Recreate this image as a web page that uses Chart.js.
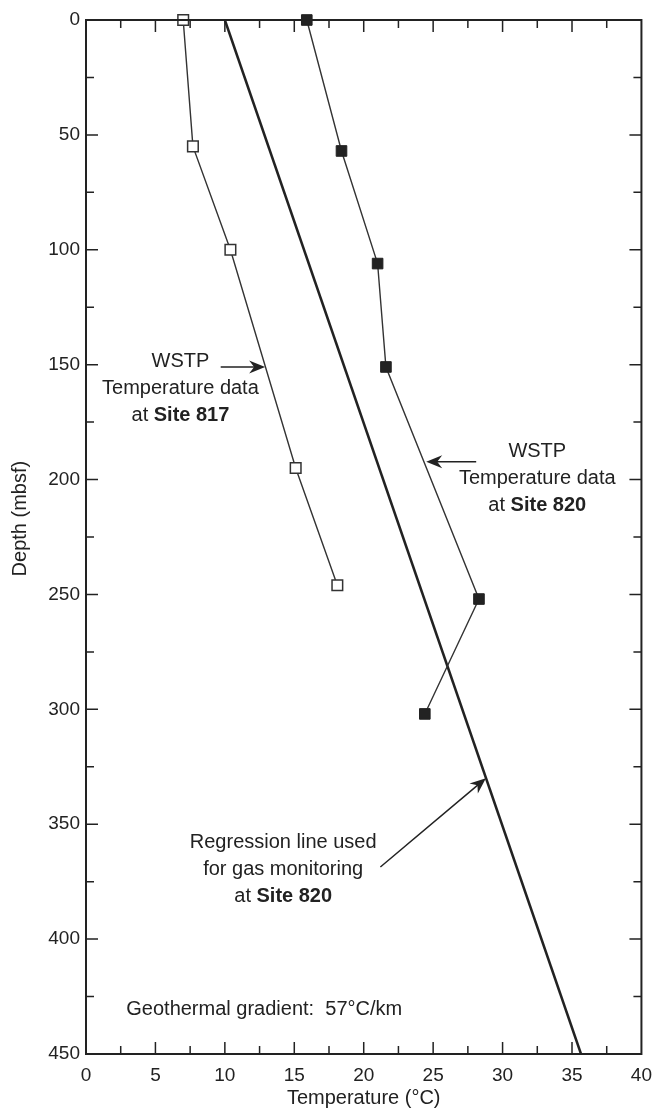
<!DOCTYPE html>
<html lang="en">
<head>
    <meta charset="UTF-8">
    <title>WSTP Temperature vs Depth</title>
    <script src="https://cdn.jsdelivr.net/npm/chart.js"></script>
    <style>
        html, body { margin: 0; padding: 0; background: #fff; }
        .chart-wrapper { position: relative; width: 662px; height: 1115px; }
    </style>
</head>
<body>
    <div class="chart-wrapper">
        <canvas id="tempChart"></canvas>
    </div>

    <script>
        // Site 817 (open squares)
        const site817Temp = [7.0, 7.7, 10.4, 15.1, 18.1];
        const site817Depth = [0, 55, 100, 195, 246];

        // Site 820 (filled squares)
        const site820Temp = [15.9, 18.4, 21.0, 21.6, 28.3, 24.4];
        const site820Depth = [0, 57, 106, 151, 252, 302];

        // Regression line, 57 C/km
        const regressionTemp = [10.0, 35.65];
        const regressionDepth = [0, 450];

        const FONT = '"Liberation Sans", Arial, Helvetica, sans-serif';
        const INK = '#222';

        // Annotations, anchored in data units (temperature, depth)
        const notes = [
            { x: 6.8, y: 148.8, lines: [['WSTP', ''], ['Temperature data', ''], ['at ', 'Site 817']] },
            { x: 32.5, y: 188.0, lines: [['WSTP', ''], ['Temperature data', ''], ['at ', 'Site 820']] },
            { x: 14.2, y: 358.1, lines: [['Regression line used', ''], ['for gas monitoring', ''], ['at ', 'Site 820']] }
        ];
        const arrows = [
            { from: [9.7, 151], to: [12.9, 151] },
            { from: [28.1, 192.3], to: [24.5, 192.3] },
            { from: [21.2, 368.6], to: [28.8, 330] }
        ];
        const gradientNote = { x: 2.9, y: 430.8, text: 'Geothermal gradient:  57\u00B0C/km' };
        const yTitle = { text: 'Depth (mbsf)', y: 217 };

        function toPoints(xs, ys) {
            return xs.map((x, i) => ({ x: x, y: ys[i] }));
        }

        function drawArrow(ctx, x1, y1, x2, y2) {
            const ang = Math.atan2(y2 - y1, x2 - x1);
            const headLen = 16, headW = 6.5;
            ctx.beginPath();
            ctx.moveTo(x1, y1);
            ctx.lineTo(x2 - Math.cos(ang) * 8, y2 - Math.sin(ang) * 8);
            ctx.stroke();
            ctx.save();
            ctx.translate(x2, y2);
            ctx.rotate(ang);
            ctx.beginPath();
            ctx.moveTo(0, 0);
            ctx.lineTo(-headLen, -headW);
            ctx.lineTo(-headLen + 5, 0);
            ctx.lineTo(-headLen, headW);
            ctx.closePath();
            ctx.fill();
            ctx.restore();
        }

        const framePlugin = {
            id: 'frame',
            afterDraw(chart) {
                const ctx = chart.ctx;
                const area = chart.chartArea;
                const xs = chart.scales.x;
                const ys = chart.scales.y;

                ctx.save();
                ctx.strokeStyle = INK;
                ctx.fillStyle = INK;

                // box
                ctx.lineWidth = 2;
                ctx.strokeRect(area.left, area.top, area.right - area.left, area.bottom - area.top);

                // inward ticks on all four sides
                ctx.lineWidth = 1.5;
                ctx.beginPath();
                xs.ticks.forEach(t => {
                    if (t.value <= xs.min || t.value >= xs.max) return;
                    const px = xs.getPixelForValue(t.value);
                    const len = t.value % 5 === 0 ? 12 : 8;
                    ctx.moveTo(px, area.bottom);
                    ctx.lineTo(px, area.bottom - len);
                    ctx.moveTo(px, area.top);
                    ctx.lineTo(px, area.top + len);
                });
                ys.ticks.forEach(t => {
                    if (t.value <= ys.min || t.value >= ys.max) return;
                    const py = ys.getPixelForValue(t.value);
                    const len = t.value % 50 === 0 ? 12 : 8;
                    ctx.moveTo(area.left, py);
                    ctx.lineTo(area.left + len, py);
                    ctx.moveTo(area.right, py);
                    ctx.lineTo(area.right - len, py);
                });
                ctx.stroke();

                // text notes
                ctx.textBaseline = 'middle';
                const normalFont = '20px ' + FONT;
                const boldFont = 'bold 20px ' + FONT;
                notes.forEach(n => {
                    const cx = xs.getPixelForValue(n.x);
                    let cy = ys.getPixelForValue(n.y);
                    n.lines.forEach(([plain, bold]) => {
                        ctx.font = normalFont;
                        const w1 = ctx.measureText(plain).width;
                        ctx.font = boldFont;
                        const w2 = bold ? ctx.measureText(bold).width : 0;
                        const left = cx - (w1 + w2) / 2;
                        ctx.textAlign = 'left';
                        ctx.font = normalFont;
                        ctx.fillText(plain, left, cy);
                        if (bold) {
                            ctx.font = boldFont;
                            ctx.fillText(bold, left + w1, cy);
                        }
                        cy += 27;
                    });
                });

                ctx.font = normalFont;
                ctx.textAlign = 'left';
                ctx.fillText(gradientNote.text, xs.getPixelForValue(gradientNote.x), ys.getPixelForValue(gradientNote.y));

                // y axis title
                ctx.save();
                ctx.translate(20, ys.getPixelForValue(yTitle.y));
                ctx.rotate(-Math.PI / 2);
                ctx.textAlign = 'center';
                ctx.fillText(yTitle.text, 0, 0);
                ctx.restore();

                // arrows
                ctx.lineWidth = 1.5;
                arrows.forEach(a => {
                    drawArrow(ctx,
                        xs.getPixelForValue(a.from[0]), ys.getPixelForValue(a.from[1]),
                        xs.getPixelForValue(a.to[0]), ys.getPixelForValue(a.to[1]));
                });

                ctx.restore();
            }
        };

        const ctx = document.getElementById('tempChart').getContext('2d');
        const tempChart = new Chart(ctx, {
            type: 'scatter',
            data: {
                datasets: [
                    {
                        label: 'Regression (Site 820)',
                        data: toPoints(regressionTemp, regressionDepth),
                        showLine: true,
                        borderColor: INK,
                        borderWidth: 2.5,
                        pointRadius: 0,
                        order: 3
                    },
                    {
                        label: 'WSTP Site 817',
                        data: toPoints(site817Temp, site817Depth),
                        showLine: true,
                        borderColor: '#333',
                        borderWidth: 1.4,
                        pointStyle: 'rect',
                        pointRadius: 7.5,
                        pointBackgroundColor: '#fff',
                        pointBorderColor: '#333',
                        pointBorderWidth: 1.5,
                        order: 1
                    },
                    {
                        label: 'WSTP Site 820',
                        data: toPoints(site820Temp, site820Depth),
                        showLine: true,
                        borderColor: '#333',
                        borderWidth: 1.4,
                        pointStyle: 'rect',
                        pointRadius: 7.5,
                        pointBackgroundColor: '#222',
                        pointBorderColor: '#222',
                        pointBorderWidth: 1,
                        order: 2
                    }
                ]
            },
            options: {
                responsive: true,
                maintainAspectRatio: false,
                animation: false,
                clip: false,
                layout: {
                    padding: { left: 0, top: 20, right: 12, bottom: 0 }
                },
                plugins: {
                    legend: { display: false },
                    tooltip: { enabled: false }
                },
                scales: {
                    x: {
                        type: 'linear',
                        position: 'bottom',
                        min: 0,
                        max: 40,
                        grid: { display: false, drawTicks: false },
                        border: { display: false },
                        ticks: {
                            stepSize: 2.5,
                            autoSkip: false,
                            maxRotation: 0,
                            padding: 10,
                            color: INK,
                            font: { family: FONT, size: 19 },
                            callback: v => (v % 5 === 0 ? v : '')
                        },
                        title: {
                            display: true,
                            text: 'Temperature (\u00B0C)',
                            color: INK,
                            font: { family: FONT, size: 20 },
                            padding: { top: 0, bottom: 5 }
                        },
                        afterFit: scale => { scale.height = 61; }
                    },
                    y: {
                        type: 'linear',
                        reverse: true,
                        min: 0,
                        max: 450,
                        grid: { display: false, drawTicks: false },
                        border: { display: false },
                        ticks: {
                            stepSize: 25,
                            autoSkip: false,
                            padding: 6,
                            color: INK,
                            font: { family: FONT, size: 19 },
                            callback: v => (v % 50 === 0 ? v : '')
                        },
                        title: { display: false },
                        afterFit: scale => { scale.width = 86; }
                    }
                }
            },
            plugins: [framePlugin]
        });
    </script>
</body>
</html>
